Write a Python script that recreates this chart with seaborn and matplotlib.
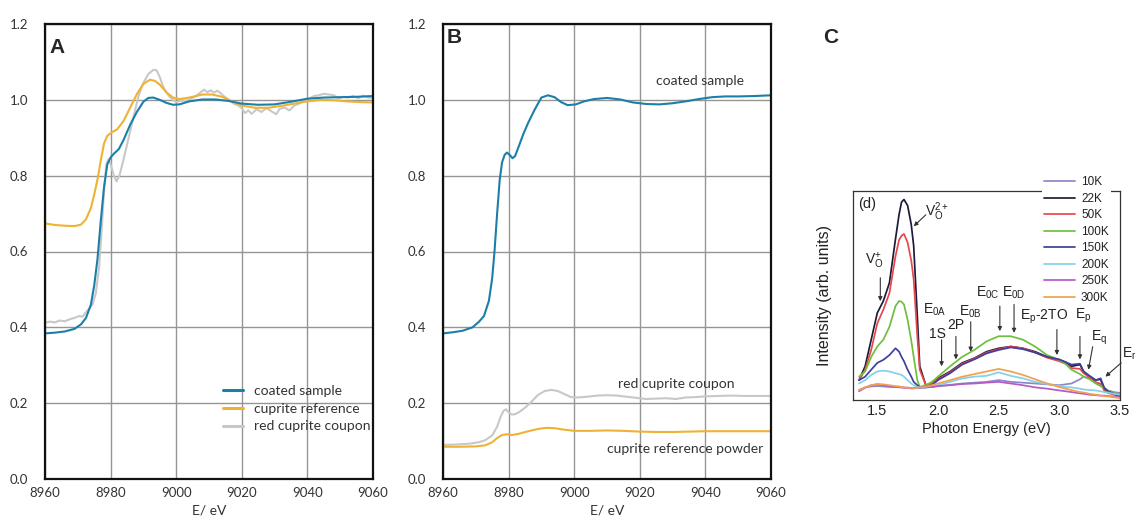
import numpy as np
import pandas as pd
import matplotlib
matplotlib.use("Agg")
import matplotlib.pyplot as plt
import seaborn as sns
from matplotlib.ticker import MultipleLocator, LogLocator, NullFormatter, FormatStrFormatter

# ---------------- Cu K-edge XANES (panels A and B) ----------------
energy_ticks = [8960, 8980, 9000, 9020, 9040, 9060]
mu_ticks = [0.0, 0.2, 0.4, 0.6, 0.8, 1.0, 1.2]

# Panel A: normalised spectra
a_coated_e = [8960, 8963, 8966, 8969, 8971, 8972.5, 8974, 8975, 8976, 8977, 8978, 8979, 8980, 8981,
              8982.5, 8984, 8986, 8988, 8990, 8991.5, 8993, 8995, 8997, 8999, 9001, 9004, 9008, 9012,
              9016, 9020, 9025, 9030, 9035, 9040, 9045, 9050, 9055, 9060]
a_coated = [0.384, 0.386, 0.389, 0.396, 0.408, 0.425, 0.46, 0.51, 0.58, 0.68, 0.77, 0.83, 0.848, 0.858,
            0.87, 0.895, 0.935, 0.968, 0.995, 1.005, 1.006, 1.0, 0.992, 0.987, 0.988, 0.996, 1.001, 1.001,
            0.997, 0.99, 0.987, 0.988, 0.995, 1.003, 1.006, 1.007, 1.008, 1.01]

a_cuprite_e = [8960, 8963, 8966, 8969, 8971, 8972.5, 8974, 8975, 8976, 8977, 8978, 8979, 8980.5, 8982,
               8984, 8986, 8988, 8990, 8992, 8993.5, 8995, 8997, 8999, 9001, 9004, 9008, 9011, 9014,
               9017, 9020, 9024, 9028, 9032, 9036, 9040, 9044, 9048, 9052, 9056, 9060]
a_cuprite = [0.674, 0.670, 0.668, 0.667, 0.671, 0.685, 0.715, 0.75, 0.79, 0.84, 0.885, 0.905, 0.915, 0.922,
             0.945, 0.98, 1.015, 1.042, 1.053, 1.05, 1.04, 1.02, 1.006, 1.002, 1.006, 1.014, 1.014, 1.008,
             0.996, 0.985, 0.979, 0.979, 0.984, 0.99, 0.996, 1.0, 0.999, 0.996, 0.994, 0.993]

a_coupon_e = [8960, 8961.5, 8963, 8964.5, 8966, 8967.5, 8969, 8970.5, 8971.5, 8972.5, 8973.5, 8974.5,
              8975.5, 8976.5, 8977.3, 8978, 8978.7, 8979.3, 8980, 8981, 8981.8, 8982.7, 8984, 8985.5,
              8987, 8988.5, 8990, 8991.5, 8993, 8994, 8995, 8996, 8997, 8998, 8999, 9000, 9001.5, 9003,
              9004.5, 9006, 9007.5, 9008.5, 9009.5, 9010.5, 9011.5, 9012.5, 9013.5, 9014.5, 9016,
              9017.5, 9019, 9020, 9021, 9022, 9023, 9024.5, 9026, 9027.5, 9029, 9030.5, 9031.5, 9033,
              9034.5, 9036, 9037.5, 9039, 9040.5, 9042, 9043.5, 9045, 9046.5, 9048, 9049.5, 9051,
              9052.5, 9054, 9055.5, 9057, 9058.5, 9060]
a_coupon = [0.412, 0.415, 0.413, 0.418, 0.416, 0.421, 0.425, 0.43, 0.428, 0.44, 0.45, 0.46,
            0.49, 0.56, 0.66, 0.76, 0.83, 0.843, 0.83, 0.80, 0.785, 0.80, 0.845, 0.90,
            0.955, 1.01, 1.045, 1.068, 1.079, 1.078, 1.06, 1.035, 1.02, 1.008, 1.0, 0.994, 0.998, 0.997,
            1.003, 1.01, 1.02, 1.027, 1.02, 1.025, 1.019, 1.024, 1.018, 1.01, 1.0,
            0.99, 0.985, 0.978, 0.965, 0.972, 0.963, 0.975, 0.968, 0.978, 0.97, 0.962, 0.976, 0.98,
            0.972, 0.985, 0.99, 0.998, 1.003, 1.01, 1.012, 1.016, 1.014, 1.012, 1.004, 1.008,
            1.006, 1.01, 1.004, 1.011, 1.006, 1.005]

# Panel B: raw (un-normalised) spectra
b_coated_e = [8960, 8963, 8966, 8969, 8971, 8972.5, 8974, 8975, 8975.7, 8976.5, 8977.3, 8978, 8978.8,
              8979.5, 8980.3, 8981.2, 8982, 8983, 8984.5, 8986, 8988, 8990, 8992, 8994, 8996, 8998,
              9000.5, 9003, 9006, 9010, 9014, 9018, 9022, 9026, 9030, 9034, 9038, 9042, 9046, 9050,
              9055, 9060]
b_coated = [0.384, 0.387, 0.391, 0.40, 0.415, 0.43, 0.47, 0.53, 0.60, 0.70, 0.79, 0.835, 0.855,
            0.861, 0.855, 0.846, 0.852, 0.875, 0.91, 0.94, 0.975, 1.006, 1.012, 1.007, 0.994, 0.986,
            0.988, 0.996, 1.002, 1.005, 1.001, 0.993, 0.989, 0.988, 0.991, 0.996, 1.002, 1.007, 1.009,
            1.009, 1.01, 1.012]

b_coupon_e = [8960, 8964, 8968, 8971, 8973, 8975, 8976.5, 8977.5, 8978.5, 8979.2, 8980, 8981, 8982,
              8983.5, 8985, 8987, 8989, 8991, 8993, 8995, 8997, 8999, 9001, 9004, 9007, 9010, 9013,
              9016, 9019, 9022, 9025, 9028, 9031, 9034, 9037, 9040, 9044, 9048, 9052, 9056, 9060]
b_coupon = [0.09, 0.091, 0.093, 0.097, 0.103, 0.115, 0.138, 0.163, 0.18, 0.184, 0.176, 0.17, 0.171,
            0.178, 0.188, 0.204, 0.222, 0.232, 0.235, 0.232, 0.224, 0.216, 0.215, 0.217, 0.22, 0.221,
            0.22, 0.217, 0.214, 0.211, 0.212, 0.213, 0.211, 0.215, 0.216, 0.218, 0.219, 0.22, 0.219,
            0.219, 0.219]

b_powder_e = [8960, 8965, 8970, 8973, 8975, 8976.5, 8978, 8979.5, 8981, 8983, 8986, 8989, 8991.5,
              8994, 8997, 9000, 9005, 9010, 9015, 9020, 9025, 9030, 9035, 9040, 9045, 9050, 9055, 9060]
b_powder = [0.085, 0.085, 0.086, 0.089, 0.097, 0.108, 0.116, 0.118, 0.116, 0.119, 0.126, 0.132,
            0.135, 0.134, 0.13, 0.127, 0.127, 0.128, 0.127, 0.125, 0.124, 0.124, 0.125, 0.126,
            0.126, 0.126, 0.126, 0.126]

# ---------------- Photoluminescence (panel C) ----------------
pl_energy = [1.35, 1.40, 1.45, 1.50, 1.55, 1.60, 1.65, 1.68, 1.70, 1.72, 1.75, 1.78, 1.80, 1.83,
             1.85, 1.90, 1.95, 2.00, 2.10, 2.20, 2.30, 2.40, 2.50, 2.60, 2.70, 2.80, 2.90, 3.00,
             3.05, 3.10, 3.17, 3.20, 3.25, 3.30, 3.34, 3.37, 3.40, 3.45, 3.50]
pl_labels = ["10K", "22K", "50K", "100K", "150K", "200K", "250K", "300K"]
pl_10K = [1.88, 2.02, 2.07, 2.09, 2.07, 2.04, 2.04, 2.02, 2.02, 2.00, 2.00, 1.97, 1.97, 2.00,
          2.00, 2.02, 2.04, 2.09, 2.16, 2.24, 2.29, 2.34, 2.45, 2.34, 2.29, 2.24, 2.19, 2.14,
          2.19, 2.24, 2.51, 2.69, 2.57, 2.34, 2.14, 1.95, 1.86, 1.78, 1.74]
pl_22K = [2.45, 3.55, 7.24, 14.8, 20.4, 33.1, 107, 209, 288, 309, 263, 158, 89.1, 13.5,
          3.55, 2.14, 2.24, 2.57, 3.09, 3.89, 4.42, 5.25, 5.75, 6.03, 5.75, 5.25, 4.57, 4.22,
          3.98, 3.55, 3.72, 3.09, 2.69, 2.45, 2.51, 1.95, 1.80, 1.70, 1.66]
pl_50K = [2.45, 3.24, 5.50, 11.2, 16.2, 25.1, 67.6, 105, 117, 123, 97.7, 60.3, 36.3, 7.94,
          3.24, 2.14, 2.24, 2.51, 3.02, 3.80, 4.37, 5.13, 5.62, 6.03, 5.75, 5.13, 4.47, 4.07,
          3.80, 3.39, 3.31, 2.95, 2.63, 2.29, 2.24, 1.86, 1.74, 1.66, 1.58]
pl_100K = [2.69, 3.09, 4.57, 6.03, 7.24, 10.2, 17.8, 20.4, 20.0, 18.6, 12.3, 7.08, 4.57, 2.45,
           2.04, 2.14, 2.34, 2.69, 3.55, 4.57, 5.50, 6.92, 7.94, 7.94, 7.24, 6.03, 4.79, 4.22,
           3.80, 3.24, 2.88, 2.69, 2.51, 2.24, 2.09, 2.00, 1.86, 1.74, 1.66]
pl_150K = [2.45, 2.69, 3.24, 3.89, 4.22, 4.79, 5.75, 5.25, 4.57, 4.07, 3.24, 2.69, 2.34, 2.14,
           2.04, 2.02, 2.14, 2.45, 2.95, 3.72, 4.27, 5.01, 5.50, 5.89, 5.62, 5.13, 4.57, 4.27,
           3.98, 3.72, 3.80, 3.09, 2.75, 2.45, 2.57, 2.00, 1.82, 1.70, 1.62]
pl_200K = [2.24, 2.45, 2.82, 3.09, 3.16, 3.09, 2.95, 2.88, 2.82, 2.69, 2.45, 2.24, 2.14, 2.04,
           2.02, 2.02, 2.04, 2.14, 2.34, 2.57, 2.69, 2.75, 3.02, 2.75, 2.57, 2.34, 2.21, 2.09,
           2.04, 2.02, 1.95, 1.91, 1.88, 1.86, 1.82, 1.78, 1.76, 1.70, 1.66]
pl_250K = [1.82, 2.00, 2.14, 2.19, 2.14, 2.09, 2.04, 2.04, 2.02, 2.00, 2.00, 1.97, 1.97, 2.00,
           2.00, 2.02, 2.04, 2.09, 2.14, 2.21, 2.24, 2.29, 2.34, 2.24, 2.14, 2.02, 1.95, 1.86,
           1.82, 1.78, 1.72, 1.70, 1.66, 1.64, 1.62, 1.62, 1.60, 1.58, 1.55]
pl_300K = [1.88, 2.02, 2.14, 2.21, 2.19, 2.14, 2.09, 2.07, 2.04, 2.02, 2.00, 2.00, 1.97, 2.00,
           2.02, 2.04, 2.14, 2.24, 2.45, 2.69, 2.88, 3.09, 3.31, 3.09, 2.82, 2.51, 2.24, 2.04,
           1.95, 1.88, 1.78, 1.76, 1.70, 1.66, 1.62, 1.60, 1.58, 1.55, 1.51]
pl_series = [pl_10K, pl_22K, pl_50K, pl_100K, pl_150K, pl_200K, pl_250K, pl_300K]
pl_colors = ["#8d86c9", "#1c1c3a", "#e8464d", "#6fbf3e", "#3f3f9f", "#82d2ea", "#b55ac6", "#f2a04f"]

# ---------------- styling ----------------
sns.set_style("white")
plt.rcParams["font.family"] = ["Lato", "DejaVu Sans"]
plt.rcParams["mathtext.fontset"] = "custom"
plt.rcParams["mathtext.rm"] = "Liberation Sans"
plt.rcParams["mathtext.it"] = "Liberation Sans:italic"
plt.rcParams["mathtext.bf"] = "Liberation Sans:bold"

BLUE, ORANGE, GREY = "#1c7fa9", "#f0b233", "#c8c8c8"
TXT = "#333333"
ARIAL = ["Liberation Sans", "DejaVu Sans"]

W, H = 1138, 519
fig = plt.figure(figsize=(W / 100, H / 100), dpi=100)
axA = fig.add_axes([45 / W, 1 - 479 / H, 328 / W, 455 / H])
axB = fig.add_axes([443 / W, 1 - 479 / H, 328 / W, 455 / H])
axC = fig.add_axes([853 / W, 1 - 400 / H, 267 / W, 209 / H])


def style_xanes(ax):
    ax.set_xlim(8960, 9060)
    ax.set_ylim(0, 1.2)
    ax.set_xticks(energy_ticks)
    ax.set_yticks(mu_ticks)
    ax.yaxis.set_major_formatter(FormatStrFormatter("%.1f"))
    ax.grid(True, color="#959595", lw=1.0)
    ax.set_axisbelow(True)
    for s in ax.spines.values():
        s.set_visible(True)
        s.set_color("#111111")
        s.set_linewidth(1.6)
    ax.tick_params(axis="x", length=0, pad=6, labelsize=9.5, labelcolor=TXT)
    ax.tick_params(axis="y", length=9, width=1, color="#777777", pad=3, labelsize=9.5, labelcolor=TXT)
    ax.set_xlabel("E/ eV", fontsize=10, color=TXT, labelpad=4)
    ax.set_ylabel("")
    leg = ax.get_legend()
    if leg is not None:
        leg.remove()


# Panel A
sns.lineplot(x=a_coupon_e, y=a_coupon, ax=axA, color=GREY, lw=1.5)
sns.lineplot(x=a_cuprite_e, y=a_cuprite, ax=axA, color=ORANGE, lw=1.5)
sns.lineplot(x=a_coated_e, y=a_coated, ax=axA, color=BLUE, lw=1.5)
style_xanes(axA)
lines = axA.get_lines()
legA = axA.legend([lines[2], lines[1], lines[0]],
                  ["coated sample", "cuprite reference", "red cuprite coupon"],
                  loc="upper left", bbox_to_anchor=(0.543, 0.207), frameon=False,
                  fontsize=10, handlelength=1.4, handletextpad=0.85, labelspacing=0.42,
                  borderpad=0, borderaxespad=0)
for t in legA.get_texts():
    t.set_color(TXT)
for ln in legA.get_lines():
    ln.set_linewidth(2.2)
axA.text(0.015, 0.969, "A", transform=axA.transAxes, ha="left", va="top",
         fontsize=15, fontweight="bold", family=ARIAL)

# Panel B
sns.lineplot(x=b_coupon_e, y=b_coupon, ax=axB, color=GREY, lw=1.5)
sns.lineplot(x=b_powder_e, y=b_powder, ax=axB, color=ORANGE, lw=1.5)
sns.lineplot(x=b_coated_e, y=b_coated, ax=axB, color=BLUE, lw=1.5)
style_xanes(axB)
axB.text(9024.9, 1.05, "coated sample", fontsize=10, color=TXT, va="center", ha="left")
axB.text(9013.4, 0.25, "red cuprite coupon", fontsize=10, color=TXT, va="center", ha="left")
axB.text(9010.0, 0.079, "cuprite reference powder", fontsize=10, color=TXT, va="center", ha="left")
axB.text(0.012, 0.991, "B", transform=axB.transAxes, ha="left", va="top",
         fontsize=15, fontweight="bold", family=ARIAL)

fig.text(823 / W, 1 - 28 / H, "C", ha="left", va="top", fontsize=15, fontweight="bold", family=ARIAL)

# Panel C
for lab, vals, col in zip(pl_labels, pl_series, pl_colors):
    sns.lineplot(x=pl_energy, y=vals, ax=axC, color=col, lw=1.25, label=lab)
axC.set_yscale("log")
axC.set_xlim(1.3, 3.5)
axC.set_ylim(1.44, 388)
axC.xaxis.set_major_locator(MultipleLocator(0.5))
axC.xaxis.set_minor_locator(MultipleLocator(0.25))
axC.xaxis.set_major_formatter(FormatStrFormatter("%.1f"))
axC.yaxis.set_major_locator(LogLocator(base=10))
axC.yaxis.set_minor_locator(LogLocator(base=10, subs=np.arange(2, 10)))
axC.yaxis.set_major_formatter(NullFormatter())
axC.yaxis.set_minor_formatter(NullFormatter())
axC.tick_params(which="major", direction="in", length=4, width=0.8, color="#333333",
                labelsize=10.5, pad=3)
axC.tick_params(which="minor", direction="in", length=2, width=0.6, color="#333333")
for t in axC.get_xticklabels():
    t.set_family(ARIAL)
    t.set_color("#222222")
for s in axC.spines.values():
    s.set_visible(True)
    s.set_color("#333333")
    s.set_linewidth(0.9)
axC.set_xlabel("Photon Energy (eV)", fontsize=10.5, family=ARIAL, color="#222222", labelpad=3)
axC.set_ylabel("Intensity (arb. units)", fontsize=11.5, family=ARIAL, color="#222222", labelpad=12)

legC = axC.legend(loc="upper right", bbox_to_anchor=(1117 / W, 1 - 168 / H),
                  bbox_transform=fig.transFigure, frameon=True,
                  facecolor="white", edgecolor="none", framealpha=1, fancybox=False,
                  handlelength=2.6, handletextpad=0.5, labelspacing=0.38,
                  borderpad=0.2, prop={"family": ARIAL, "size": 8.5})
for t in legC.get_texts():
    t.set_color("#222222")

ann_kw = dict(color="#222222", family=ARIAL, fontsize=10, ha="center", va="center")
arrow = dict(arrowstyle="-|>", color="#333333", lw=0.8, mutation_scale=6, shrinkA=0, shrinkB=0)

axC.text(0.02, 0.94, "(d)", transform=axC.transAxes, color="#222222", family=ARIAL,
         fontsize=10.5, ha="left", va="center")

# peak labels: (text, text x, text y, arrow tail, arrow tip)
pl_marks = [
    (r"$\mathregular{V_O^{2+}}$", 1.99, 225, (1.90, 205), (1.80, 151)),
    (r"$\mathregular{V_O^{+}}$", 1.475, 59, (1.525, 38), (1.525, 20.3)),
    (r"$\mathregular{E_{0A}}$", 1.97, 16.2, None, None),
    ("1S", 1.996, 8.5, (2.03, 7.2), (2.03, 3.55)),
    ("2P", 2.145, 10.8, (2.148, 7.9), (2.148, 4.27)),
    (r"$\mathregular{E_{0B}}$", 2.27, 15.1, (2.27, 11.7), (2.27, 5.25)),
    (r"$\mathregular{E_{0C}}$", 2.41, 25.7, (2.51, 17.8), (2.51, 9.1)),
    (r"$\mathregular{E_{0D}}$", 2.62, 25.7, (2.627, 18.6), (2.627, 8.7)),
    (r"$\mathregular{E_p}$-2TO", 2.87, 13.2, (2.98, 9.5), (2.98, 4.8)),
    (r"$\mathregular{E_p}$", 3.20, 13.8, (3.17, 7.9), (3.17, 4.27)),
    (r"$\mathregular{E_q}$", 3.33, 7.6, (3.275, 6.0), (3.24, 3.24)),
    (r"$\mathregular{E_r}$", 3.574, 5.0, (3.51, 3.9), (3.38, 2.69)),
]
for txt, tx, ty, tail, tip in pl_marks:
    axC.text(tx, ty, txt, clip_on=False, **ann_kw)
    if tail is not None:
        axC.annotate("", xy=tip, xytext=tail, arrowprops=arrow, annotation_clip=False)

fig.savefig("out.png", dpi=100)
